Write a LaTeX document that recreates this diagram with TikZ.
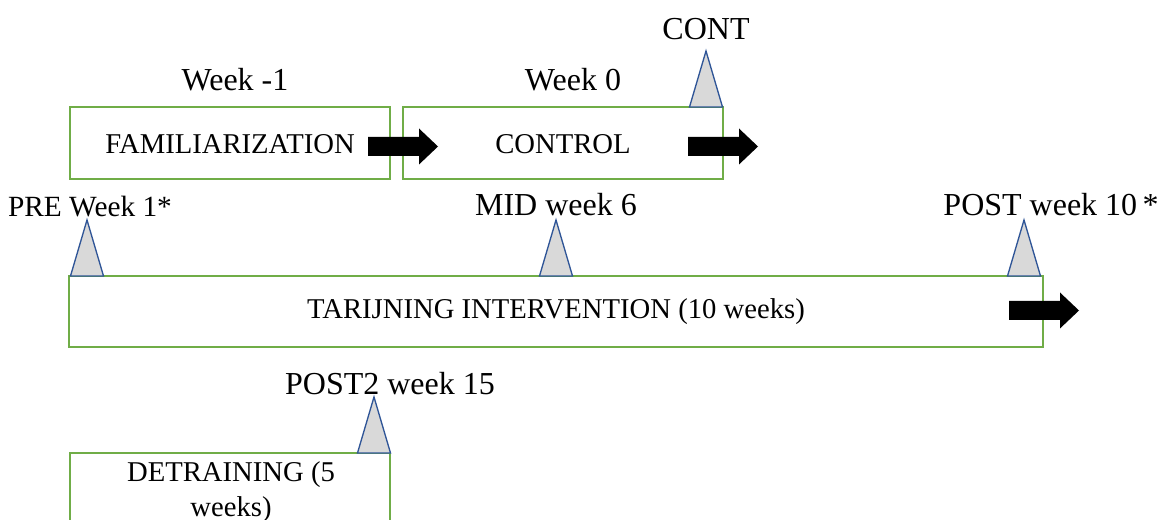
\documentclass[tikz,border=0pt]{standalone}
\usepackage{fontspec}
\setmainfont{Liberation Serif}
\definecolor{boxgreen}{HTML}{70AD47}
\definecolor{markblue}{HTML}{2F5597}
\definecolor{markgray}{HTML}{D9D9D9}
\tikzset{
	phasebox/.style={draw=boxgreen, line width=1.2pt},
	phasetext/.style={font=\fontsize{21.5}{26}\selectfont, align=center, inner sep=0pt},
	marklabel/.style={font=\fontsize{24}{28}\selectfont, inner sep=0pt},
	marker/.style={draw=markblue, fill=markgray, line width=1pt, line join=miter},
	blockarrow/.style={fill=black}
}
\begin{document}
\begin{tikzpicture}[x=0.75pt, y=-0.75pt]
	\useasboundingbox (0,0) rectangle (1161,520);

	% phase boxes
	\draw[phasebox] (70,107) rectangle (390,179);
	\draw[phasebox] (403,107) rectangle (723,179);
	\draw[phasebox] (69,276) rectangle (1043,347);
	\draw[phasebox] (70,453) rectangle (390,535);

	\node[phasetext] (famil) at (230,144) {FAMILIARIZATION};
	\node[phasetext] (control) at (563,144) {CONTROL};
	\node[phasetext] (training) at (556,312) {TARIJNING INTERVENTION (10 weeks)};
	\node[phasetext] (detraining) at (231,492) {DETRAINING (5\\weeks)};

	% block arrows
	\foreach \ax/\ay in {368/146.5, 688/146.5, 1009/310.5}
		\fill[blockarrow] (\ax,\ay) ++(0,-9.5) -- ++(51,0) -- ++(0,-8.5) -- ++(19,18)
			-- ++(-19,18) -- ++(0,-8.5) -- ++(-51,0) -- cycle;

	% test markers
	\foreach \mx/\my in {706/107, 87/276, 556/276, 1024/276, 374/453}
		\filldraw[marker] (\mx-16.5,\my) -- (\mx,\my-56) -- (\mx+16.5,\my) -- cycle;

	\node[marklabel] (wkm1) at (235,80) {Week -1};
	\node[marklabel] (wk0) at (573,80) {Week 0};
	\node[marklabel] (cont) at (706,29) {CONT};
	\node[marklabel, font=\fontsize{22}{26}\selectfont] (pre) at (90,207) {PRE Week 1*};
	\node[marklabel] (mid) at (556,205) {MID week 6};
	\node[marklabel] (post) at (1051,205) {POST week 10\,*};
	\node[marklabel] (post2) at (390,384) {POST2 week 15};
\end{tikzpicture}
\end{document}
